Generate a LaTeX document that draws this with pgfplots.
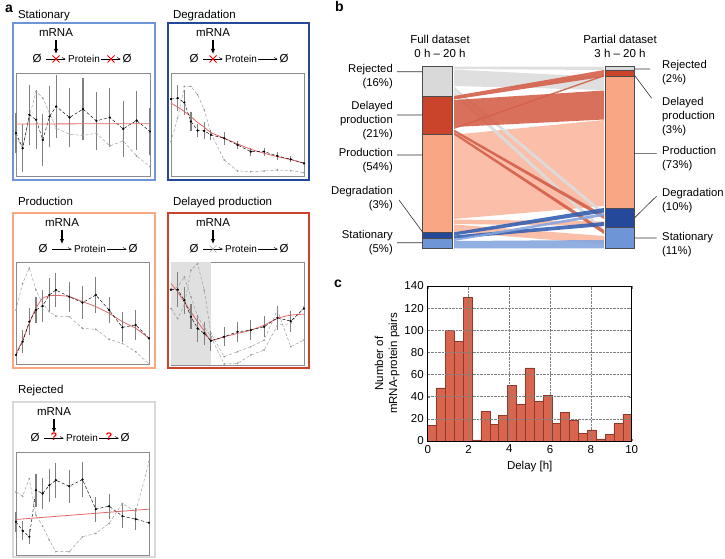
\documentclass[border=0pt]{standalone}
\usepackage{fontspec}
\setmainfont{Liberation Sans}
\usepackage{pgfplots}
\pgfplotsset{compat=1.18}
\usetikzlibrary{arrows.meta}

% category colours (bars / boxes)
\definecolor{cstat}{HTML}{6E96D6}
\definecolor{cdeg}{HTML}{24489A}
\definecolor{cprod}{HTML}{F8A683}
\definecolor{cdel}{HTML}{C9442B}
\definecolor{crej}{HTML}{D9D9D9}
% flow colours
\definecolor{fprod}{HTML}{FBB79E}
\definecolor{fdel}{HTML}{D4604A}
\definecolor{frej}{HTML}{DCDCDC}
\definecolor{fdeg}{HTML}{3560B0}
\definecolor{fstat}{HTML}{86A6DE}
\definecolor{hist}{HTML}{D9654F}
\definecolor{histe}{HTML}{8C3A2B}
\definecolor{redfit}{HTML}{E5666A}

\pgfplotsset{
  mini/.style={scale only axis, anchor=north west, xmin=0, xmax=20, y dir=reverse,
    xtick=\empty, ytick=\empty, axis line style={black!45, line width=0.5pt}, clip=false},
  blk/.style={black, densely dashed, line width=0.45pt, mark=*, mark size=0.9pt, mark options={solid},
    /pgfplots/error bars/y dir=both, /pgfplots/error bars/y explicit,
    /pgfplots/error bars/error mark=none,
    /pgfplots/error bars/error bar style={solid, line width=1.1pt, black!50}},
  gry/.style={black!40, densely dashed, line width=0.45pt, mark=*, mark size=0.6pt, mark options={solid}},
  rfit/.style={color=redfit, solid, line width=0.8pt},
  flow/.style={fill=#1, draw=none, fill opacity=0.9},
  seg/.style={fill=#1, draw=black!70, line width=0.5pt},
}

% 0 none, 1 red cross, 2 grey cross, 3 red question mark
\newcommand{\rmark}[3]{\ifcase#1\relax\or
  \draw[red, line width=0.8pt] ({#2-3.5},{#3-3.5}) -- ({#2+3.5},{#3+3.5}) ({#2-3.5},{#3+3.5}) -- ({#2+3.5},{#3-3.5});\or
  \draw[black!35, line width=0.6pt] ({#2-3.5},{#3-3.5}) -- ({#2+3.5},{#3+3.5}) ({#2-3.5},{#3+3.5}) -- ({#2+3.5},{#3-3.5});\or
  \node[text=red, inner sep=0pt, font=\fontsize{11}{12}\selectfont\bfseries] at (#2,{#3+1}) {?};\fi}

% reaction scheme: #1 x of first empty set, #2 top of box (px from top), #3 #4 marks
\newcommand{\schem}[4]{%
  \node at ({#1+19},{548-#2}) {mRNA};
  \draw[-{Latex[length=5pt,width=4.5pt]}, line width=1.1pt] ({#1+19},{541-#2}) -- ({#1+19},{527-#2});
  \node at (#1,{522-#2}) {Ø};
  \draw[-{Straight Barb[left,length=3pt,width=3pt]}, line width=0.5pt] ({#1+9},{522-#2}) -- ({#1+29},{522-#2});
  \node[font=\fontsize{10}{12}\selectfont] at ({#1+47},{522-#2}) {Protein};
  \draw[-{Straight Barb[left,length=3pt,width=3pt]}, line width=0.5pt] ({#1+64},{522-#2}) -- ({#1+84},{522-#2});
  \node at ({#1+90},{522-#2}) {Ø};
  \rmark{#3}{#1+19}{522-#2}
  \rmark{#4}{#1+74}{522-#2}
}

\begin{document}
\fontsize{11.5}{14}\selectfont
\begin{tikzpicture}[x=1pt,y=1pt]
\path[use as bounding box] (0,0) rectangle (725,558);

% ---------- panel a ----------
\node[anchor=base west, font=\fontsize{14}{16}\selectfont\bfseries] at (1,545) {a};
\node[anchor=base west] at (14,539) {Stationary};
\node[anchor=base west] at (169,539) {Degradation};
\node[anchor=base west] at (14,353) {Production};
\node[anchor=base west] at (169,353) {Delayed production};
\node[anchor=base west] at (14,165) {Rejected};

\draw[cstat, line width=2pt] (13,535) rectangle (155,378);
\draw[cdeg, line width=2pt] (168,535) rectangle (309,378);
\draw[cprod, line width=2pt] (13,345) rectangle (155,190);
\draw[cdel, line width=2pt] (168,345) rectangle (309,190);
\draw[crej, line width=2pt] (13,156) rectangle (155,1);

\schem{37}{23}{1}{1}
\schem{194}{23}{1}{0}
\schem{43}{213}{0}{0}
\schem{194}{213}{2}{0}
\schem{35}{402}{3}{3}

% Stationary
\begin{axis}[mini, at={(16pt,485pt)}, width=134pt, height=103pt, ymin=10, ymax=318]
\addplot[gry] coordinates {(0,200) (1,235) (2,140) (3,65) (4,85) (5,130) (6,175) (8,193) (10,197) (12,190) (14,228) (16,213) (18,258) (20,290)};
\addplot[blk] coordinates {(0,190) +- (0,60) (1,235) +- (0,72) (2,135) +- (0,90) (3,150) +- (0,88) (4,210) +- (0,78) (5,140) +- (0,90) (6,110) +- (0,95) (8,143) +- (0,88) (10,118) +- (0,93) (12,153) +- (0,87) (14,143) +- (0,88) (16,177) +- (0,83) (18,152) +- (0,88) (20,185) +- (0,70)};
\addplot[rfit] coordinates {(0,162.5) (20,161.5)};
\end{axis}

% Degradation
\begin{axis}[mini, at={(171pt,485pt)}, width=133pt, height=103pt, ymin=10, ymax=318]
\addplot[gry] coordinates {(0,215) (1,145) (2,50) (3,50) (4,75) (5,120) (6,190) (8,270) (10,303) (12,305) (14,303) (16,300) (18,302) (20,308)};
\addplot[rfit, smooth] coordinates {(0,100) (1,112) (2,125) (3,140) (4,158) (5,172) (6,188) (8,205) (10,222) (12,238) (14,250) (16,260) (18,269) (20,280)};
\addplot[blk] coordinates {(0,88) +- (0,0) (1,85) +- (0,40) (2,98) +- (0,38) (3,155) +- (0,28) (4,182) +- (0,20) (5,183) +- (0,25) (6,195) +- (0,15) (8,205) +- (0,20) (10,225) +- (0,13) (12,245) +- (0,12) (14,245) +- (0,12) (16,258) +- (0,12) (18,268) +- (0,9) (20,280) +- (0,0)};
\end{axis}

% Production
\begin{axis}[mini, at={(16pt,296pt)}, width=133pt, height=102pt, ymin=-84, ymax=222]
\addplot[gry] coordinates {(0,60) (1,-20) (2,-66) (3,0) (4,40) (5,65) (6,78) (8,80) (10,115) (12,118) (14,148) (16,160) (18,185) (20,222)};
\addplot[rfit, smooth] coordinates {(0,190) (1,150) (2,100) (3,55) (4,25) (5,18) (6,16) (8,20) (10,35) (12,50) (14,70) (16,95) (18,115) (20,145)};
\addplot[blk] coordinates {(0,195) +- (0,0) (1,155) +- (0,35) (2,95) +- (0,40) (3,60) +- (0,40) (4,48) +- (0,48) (5,15) +- (0,50) (6,0) +- (0,50) (8,20) +- (0,45) (10,38) +- (0,50) (12,15) +- (0,55) (14,60) +- (0,40) (16,112) +- (0,45) (18,105) +- (0,45) (20,145) +- (0,0)};
\end{axis}

% Delayed production
\begin{axis}[mini, at={(171pt,296pt)}, width=133pt, height=103pt, ymin=65, ymax=375]
\addplot[fill=black!12, draw=none] coordinates {(0,65) (6,65) (6,375) (0,375)} --cycle;
\addplot[gry] coordinates {(0,205) (1,235) (2,195) (3,90) (4,70) (5,150) (6,280) (8,350) (10,335) (12,320) (14,300) (16,210) (18,320) (20,300)};
\addplot[gry] coordinates {(0,150) (1,140) (2,110) (3,170) (4,230) (5,260) (6,290) (8,372) (10,370) (12,345) (14,330) (16,255) (18,250) (20,200)};
\addplot[rfit, smooth] coordinates {(0,130) (1,155) (2,185) (3,215) (4,245) (5,272) (6,300) (8,290) (10,280) (12,270) (14,255) (16,235) (18,225) (20,222)};
\addplot[blk] coordinates {(0,148) +- (0,0) (1,148) +- (0,52) (2,180) +- (0,40) (3,230) +- (0,38) (4,265) +- (0,40) (5,280) +- (0,35) (6,302) +- (0,30) (8,290) +- (0,28) (10,275) +- (0,30) (12,270) +- (0,30) (14,260) +- (0,31) (16,233) +- (0,37) (18,243) +- (0,32) (20,205) +- (0,0)};
\end{axis}

% Rejected
\begin{axis}[mini, at={(16pt,106pt)}, width=133pt, height=103pt, ymin=35, ymax=345]
\addplot[gry] coordinates {(0,155) (1,168) (2,115) (3,225) (4,258) (5,300) (6,335) (8,335) (10,290) (12,280) (14,250) (16,190) (18,215) (20,65)};
\addplot[rfit] coordinates {(0,238) (20,207)};
\addplot[blk] coordinates {(0,245) +- (0,30) (1,272) +- (0,28) (2,290) +- (0,22) (3,150) +- (0,50) (4,160) +- (0,47) (5,135) +- (0,50) (6,120) +- (0,52) (8,138) +- (0,50) (10,118) +- (0,52) (12,207) +- (0,38) (14,198) +- (0,38) (16,228) +- (0,36) (18,237) +- (0,33) (20,248) +- (0,0)};
\end{axis}

% ---------- panel b ----------
\node[anchor=base west, font=\fontsize{14}{16}\selectfont\bfseries] at (331,546) {b};
\begin{axis}[at={(0pt,0pt)}, anchor=south west, scale only axis, width=725pt, height=558pt,
  xmin=0, xmax=725, ymin=0, ymax=558, y dir=reverse, hide axis, clip=false]
% production flows
\addplot[flow=fprod] coordinates {(454,134.7) (604,120) (604,206) (454,219)} --cycle;
\addplot[flow=fprod] coordinates {(454,219.5) (604,221.5) (604,226) (454,224)} --cycle;
\addplot[flow=fprod] coordinates {(454,224.5) (604,236) (604,244) (454,232)} --cycle;
% rejected flows
\addplot[flow=frej] coordinates {(454,66.7) (604,66.7) (604,70) (454,69)} --cycle;
\addplot[flow=frej] coordinates {(454,69.5) (604,77) (604,90) (454,86)} --cycle;
\addplot[flow=frej] coordinates {(454,86.5) (604,212) (604,216) (454,90.5)} --cycle;
\addplot[flow=frej] coordinates {(454,91) (604,229) (604,233) (454,95.5)} --cycle;
% delayed production flows
\addplot[flow=fdel] coordinates {(454,96) (604,70) (604,76.7) (454,99.5)} --cycle;
\addplot[flow=fdel] coordinates {(454,100) (604,90.5) (604,119.5) (454,127)} --cycle;
\addplot[flow=fdel] coordinates {(454,127.5) (604,75) (604,76.5) (454,129)} --cycle;
\addplot[flow=fdel] coordinates {(454,129.5) (604,215) (604,219) (454,132)} --cycle;
\addplot[flow=fdel] coordinates {(454,132.2) (604,230) (604,234) (454,134.7)} --cycle;
% degradation and stationary flows
\addplot[flow=fdeg] coordinates {(454,232.3) (604,208) (604,212.5) (454,235.5)} --cycle;
\addplot[flow=fdeg] coordinates {(454,235.5) (604,222) (604,226) (454,238.7)} --cycle;
\addplot[flow=fstat] coordinates {(454,239) (604,213) (604,216) (454,241)} --cycle;
\addplot[flow=fstat] coordinates {(454,241) (604,240) (604,248.3) (454,248.3)} --cycle;
% left bar (full dataset)
\addplot[seg=crej] coordinates {(422.7,66.7) (452.3,66.7) (452.3,96) (422.7,96)} --cycle;
\addplot[seg=cdel] coordinates {(422.7,96) (452.3,96) (452.3,134.7) (422.7,134.7)} --cycle;
\addplot[seg=cprod] coordinates {(422.7,134.7) (452.3,134.7) (452.3,232.3) (422.7,232.3)} --cycle;
\addplot[seg=cdeg] coordinates {(422.7,232.3) (452.3,232.3) (452.3,238.7) (422.7,238.7)} --cycle;
\addplot[seg=cstat] coordinates {(422.7,238.7) (452.3,238.7) (452.3,248.3) (422.7,248.3)} --cycle;
% right bar (partial dataset)
\addplot[seg=crej] coordinates {(605.3,66.7) (634.3,66.7) (634.3,70) (605.3,70)} --cycle;
\addplot[seg=cdel] coordinates {(605.3,70) (634.3,70) (634.3,76.7) (605.3,76.7)} --cycle;
\addplot[seg=cprod] coordinates {(605.3,76.7) (634.3,76.7) (634.3,208.3) (605.3,208.3)} --cycle;
\addplot[seg=cdeg] coordinates {(605.3,208.3) (634.3,208.3) (634.3,227.7) (605.3,227.7)} --cycle;
\addplot[seg=cstat] coordinates {(605.3,227.7) (634.3,227.7) (634.3,248.3) (605.3,248.3)} --cycle;
% headers
\node[align=center] at (440,46.5) {Full dataset\\0 h -- 20 h};
\node[align=center] at (620,46.5) {Partial dataset\\3 h -- 20 h};
% leaders
\draw[black!80, line width=0.6pt] (397,71.7) -- (422.7,71.7) (397,115) -- (422.7,115) (397,155) -- (422.7,155)
  (399,200) -- (422.7,232.3) (397,242.7) -- (422.7,242.7);
\draw[black!80, line width=0.6pt] (634.3,69) -- (650,69) (634.3,75) -- (651.7,98.3) (634.3,153.3) -- (656.7,153.3)
  (634.3,218) -- (656.7,196) (634.3,238) -- (656.7,238);
% labels left
\begin{scope}[every node/.style={anchor=east, align=right, inner xsep=0pt, font=\fontsize{11.3}{14}\selectfont}]
\node at (393,77) {Rejected\\(16\%)};
\node at (393,120.5) {Delayed\\production\\(21\%)};
\node at (393,161) {Production\\(54\%)};
\node at (393,199) {Degradation\\(3\%)};
\node at (393,243) {Stationary\\(5\%)};
\end{scope}
% labels right
\begin{scope}[every node/.style={anchor=west, align=left, inner xsep=0pt, font=\fontsize{11.3}{14}\selectfont}]
\node at (662,73) {Rejected\\(2\%)};
\node at (662,117) {Delayed\\production\\(3\%)};
\node at (662,159) {Production\\(73\%)};
\node at (662,200.5) {Degradation\\(10\%)};
\node at (662,245) {Stationary\\(11\%)};
\end{scope}
\end{axis}

% ---------- panel c ----------
\node[anchor=base west, font=\fontsize{14}{16}\selectfont\bfseries] at (330,271) {c};
\begin{axis}[at={(427.7pt,117pt)}, anchor=south west, scale only axis, width=204pt, height=155pt,
  xmin=0, xmax=10, ymin=0, ymax=140, xtick={0,2,...,10}, ytick={0,20,...,140},
  grid=major, grid style={densely dotted, black!50, line width=0.5pt}, axis on top,
  tick align=inside, major tick length=2.5pt, axis line style={line width=0.6pt},
  xlabel={Delay [h]}, ylabel={Number of\\mRNA-protein pairs}, ylabel style={align=center},
  ylabel shift=-3pt,
  /pgf/number format/assume math mode=true]
\addplot[ybar interval, fill=hist, draw=histe, line width=0.5pt] coordinates {
  (0,14) (0.4348,48) (0.8696,100) (1.3043,90) (1.7391,130) (2.1739,1) (2.6087,27) (3.0435,15)
  (3.4783,23) (3.9130,50) (4.3478,33) (4.7826,66) (5.2174,36) (5.6522,41) (6.0870,16) (6.5217,26)
  (6.9565,19) (7.3913,7) (7.8261,10) (8.2609,2) (8.6957,6) (9.1304,16) (9.5652,24) (10,24)};
\end{axis}
\end{tikzpicture}
\end{document}
